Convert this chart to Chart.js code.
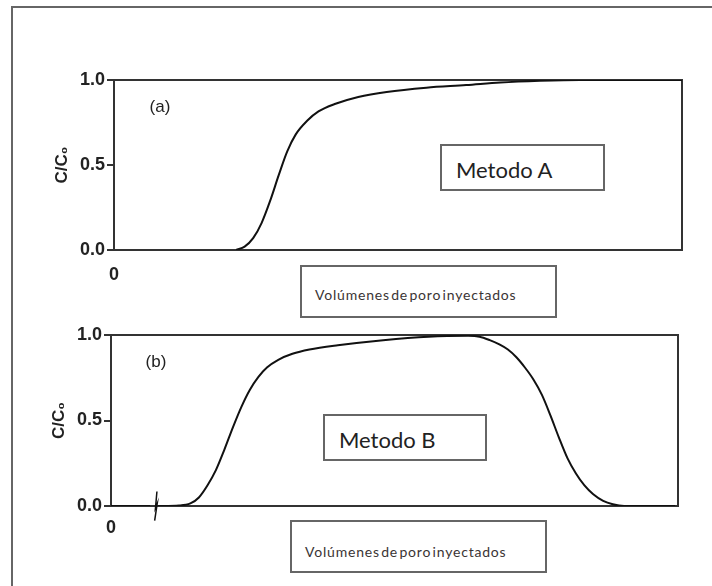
<!DOCTYPE html>
<html>
<head>
<meta charset="utf-8">
<script src="https://cdn.jsdelivr.net/npm/chart.js@4/dist/chart.umd.min.js"></script>
<style>
  body { margin: 0; background: #fff; }
  #wrap { position: relative; width: 712px; height: 586px; overflow: hidden; background: #fff; }
  .cv { position: absolute; left: 0; }
  #frame { position: absolute; left: 11px; top: 6px; width: 800px; height: 700px;
    border-left: 2px solid #666; border-top: 2px solid #666; }
  .box { position: absolute; border: 2px solid #666; box-sizing: border-box; background: #fff; }
  .box span { position: absolute; white-space: nowrap; transform: translateY(-50%); }
  .metodo { font-family: Lato, "Open Sans", sans-serif; font-size: 22px; color: #222; }
  .vol { font-family: Lato, "Open Sans", sans-serif; font-size: 14px; color: #3a3434;
    letter-spacing: 0.8px; word-spacing: -3px; }
  .tag { position: absolute; font-family: "Liberation Sans", Arial, sans-serif; font-size: 17px; color: #222;
    transform: translate(-50%, -50%); }
</style>
</head>
<body>
<div id="wrap">
  <div id="frame"></div>
  <canvas id="chartA" class="cv" width="712" height="290" style="top:0px"></canvas>
  <canvas id="chartB" class="cv" width="712" height="296" style="top:290px"></canvas>
  <div class="tag" style="left:160px; top:107px">(a)</div>
  <div class="tag" style="left:156px; top:362px">(b)</div>
  <div class="box" style="left:440px; top:144px; width:165px; height:47px">
    <span class="metodo" style="left:14px; top:23px">Metodo A</span></div>
  <div class="box" style="left:323px; top:414px; width:164px; height:47px">
    <span class="metodo" style="left:14px; top:23px">Metodo B</span></div>
  <div class="box" style="left:300px; top:265px; width:257px; height:53px">
    <span class="vol" style="left:13px; top:27px">Volúmenes de poro inyectados</span></div>
  <div class="box" style="left:290px; top:520px; width:257px; height:53px">
    <span class="vol" style="left:13px; top:29px">Volúmenes de poro inyectados</span></div>
</div>
<script>
// curve values (x = share of the pore volume axis, 0-100)
const xA = [21.5, 23, 24.5, 26, 27.5, 29, 30.5, 32, 34, 36, 39, 43, 48, 55, 62, 68, 75, 82, 100];
const yA = [0, 0.02, 0.07, 0.16, 0.29, 0.44, 0.58, 0.68, 0.76, 0.815, 0.86, 0.90, 0.93, 0.955, 0.97, 0.985, 0.995, 1.0, 1.0];

const xB = [0, 6.9, 7.5, 8.3, 12, 14, 15.5, 17, 18.5, 20, 21.5, 23, 24.5, 26, 27.5, 29.5, 32, 35, 40, 48, 56,
  63, 65, 66.8, 68.5, 70, 71.5, 73, 74.5, 76, 77.5, 79, 80.5, 82, 83.5, 85, 86.8, 88.5, 90.5, 99.5];
const yB = [0, 0, null, 0, 0.003, 0.015, 0.05, 0.12, 0.21, 0.33, 0.46, 0.58, 0.68, 0.755, 0.81, 0.855, 0.89, 0.915, 0.94, 0.97, 0.99,
  0.995, 0.99, 0.97, 0.945, 0.915, 0.87, 0.81, 0.74, 0.65, 0.53, 0.40, 0.28, 0.19, 0.12, 0.07, 0.03, 0.01, 0, 0];

// axis break mark on plot (b)
const breakX = [8.1, 7.85, 8.15, 7.7];
const breakY = [0.085, -0.01, 0.015, -0.085];

const yTicks = [0, 0.5, 1.0];
const xTicks = [0];
const yTitle = "C/C\u2080";

function pts(xs, ys) {
  let out = [];
  for (let i = 0; i < xs.length; i++) {
    out.push({x: xs[i], y: ys[i]});
  }
  return out;
}

const framePlugin = {
  id: "frame",
  beforeDatasetsDraw(chart) {
    let a = chart.chartArea;
    let ctx = chart.ctx;
    ctx.save();
    ctx.strokeStyle = "#333";
    ctx.lineWidth = 2;
    ctx.strokeRect(a.left, a.top, a.right - a.left, a.bottom - a.top);
    ctx.restore();
  }
};

function makeOpts(pad, yWidth, xHeight, titlePad, xPad) {
  return {
    responsive: false,
    animation: false,
    layout: { padding: pad },
    plugins: { legend: { display: false }, tooltip: { enabled: false } },
    scales: {
      x: {
        type: "linear", min: 0, max: 100,
        grid: { display: false },
        border: { display: false },
        afterBuildTicks: (s) => { s.ticks = xTicks.map(v => ({value: v})); },
        afterFit: (s) => { s.height = xHeight; },
        ticks: {
          padding: xPad, maxRotation: 0,
          color: "#222",
          font: { family: "Liberation Sans", size: 18, weight: "bold" },
          callback: (v) => String(v)
        }
      },
      y: {
        min: 0, max: 1,
        grid: { drawOnChartArea: false, tickLength: 7, color: "#333", lineWidth: 2 },
        border: { display: false },
        afterBuildTicks: (s) => { s.ticks = yTicks.map(v => ({value: v})); },
        afterFit: (s) => { s.width = yWidth; },
        ticks: {
          padding: 2,
          color: "#222",
          font: { family: "Liberation Sans", size: 18, weight: "bold" },
          callback: (v) => v.toFixed(1)
        },
        title: {
          display: true, text: yTitle, color: "#222",
          padding: { top: titlePad, bottom: 0 },
          font: { family: "Liberation Sans", size: 17, weight: "bold" }
        }
      }
    }
  };
}

const lineStyle = {
  borderColor: "#111", borderWidth: 2, pointRadius: 0,
  cubicInterpolationMode: "monotone", fill: false
};

const chartA = new Chart(document.getElementById("chartA"), {
  type: "line",
  data: { datasets: [Object.assign({ data: pts(xA, yA) }, lineStyle)] },
  options: makeOpts({ left: 45, top: 80, right: 30, bottom: 0 }, 69, 40, 7, 6),
  plugins: [framePlugin]
});

const chartB = new Chart(document.getElementById("chartB"), {
  type: "line",
  data: { datasets: [
    Object.assign({ data: pts(xB, yB), spanGaps: false }, lineStyle),
    { data: pts(breakX, breakY), borderColor: "#111", borderWidth: 1.5, pointRadius: 0, tension: 0, clip: false }
  ] },
  options: makeOpts({ left: 42, top: 45, right: 34, bottom: 0 }, 69, 80, 7, 3),
  plugins: [framePlugin]
});
</script>
</body>
</html>
